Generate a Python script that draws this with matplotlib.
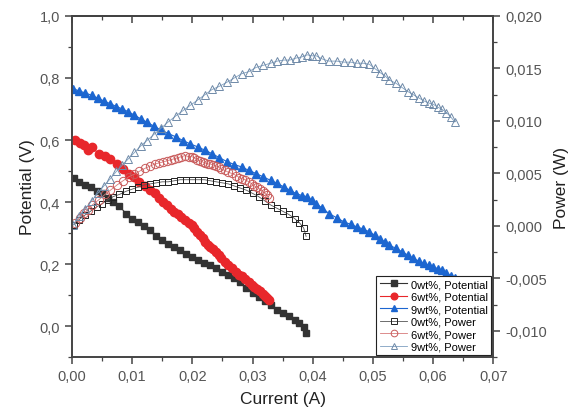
import numpy as np
import matplotlib
matplotlib.use("Agg")
import matplotlib.pyplot as plt
from matplotlib.ticker import MultipleLocator, FuncFormatter

plt.rcParams['font.family'] = ['Liberation Sans', 'DejaVu Sans']

# 0 wt% sample
current_0 = [0.0003, 0.0012, 0.0021, 0.0031, 0.0041, 0.0050, 0.0060, 0.0069, 0.0079, 0.0090,
             0.0100, 0.0110, 0.0120, 0.0130, 0.0140, 0.0150, 0.0160, 0.0170, 0.0180, 0.0190,
             0.0200, 0.0210, 0.0220, 0.0230, 0.0240, 0.0250, 0.0260, 0.0270, 0.0280, 0.0290,
             0.0300, 0.0310, 0.0320, 0.0330, 0.0340, 0.0350, 0.0360, 0.0370, 0.0378, 0.0385,
             0.0389]
potential_0 = [0.476, 0.466, 0.455, 0.447, 0.437, 0.428, 0.413, 0.401, 0.386, 0.363,
               0.346, 0.335, 0.322, 0.309, 0.290, 0.278, 0.264, 0.255, 0.245, 0.232,
               0.223, 0.213, 0.205, 0.196, 0.186, 0.176, 0.165, 0.155, 0.141, 0.122,
               0.108, 0.095, 0.082, 0.068, 0.053, 0.041, 0.031, 0.020, 0.010, -0.004,
               -0.022]
power_0 = [0.0001, 0.0006, 0.0010, 0.0014, 0.0018, 0.0021, 0.0025, 0.0028, 0.0030, 0.0033,
           0.0035, 0.0037, 0.0039, 0.0040, 0.0041, 0.0042, 0.0042, 0.0043, 0.0044, 0.0044,
           0.0044, 0.0044, 0.0044, 0.0043, 0.0042, 0.0041, 0.0040, 0.0038, 0.0036, 0.0034,
           0.0031, 0.0028, 0.0024, 0.0020, 0.0017, 0.0014, 0.0011, 0.0007, 0.0003, -0.0002,
           -0.0010]

# 6 wt% sample
current_6 = [0.0005, 0.0013, 0.0020, 0.0026, 0.0034, 0.0045, 0.0055, 0.0064, 0.0075, 0.0085,
             0.0095, 0.0103, 0.0112, 0.0122, 0.0130, 0.0138, 0.0145, 0.0152, 0.0158, 0.0164,
             0.0170, 0.0176, 0.0182, 0.0188, 0.0194, 0.0199, 0.0203, 0.0208, 0.0212, 0.0217,
             0.0221, 0.0226, 0.0230, 0.0235, 0.0240, 0.0244, 0.0248, 0.0254, 0.0260, 0.0266,
             0.0273, 0.0278, 0.0282, 0.0288, 0.0294, 0.0299, 0.0303, 0.0308, 0.0312, 0.0317,
             0.0321, 0.0324, 0.0327]
potential_6 = [0.600, 0.592, 0.585, 0.568, 0.576, 0.555, 0.548, 0.538, 0.522, 0.505,
               0.490, 0.480, 0.466, 0.452, 0.440, 0.428, 0.412, 0.400, 0.390, 0.376,
               0.368, 0.360, 0.352, 0.342, 0.334, 0.325, 0.316, 0.302, 0.293, 0.283,
               0.272, 0.262, 0.256, 0.248, 0.238, 0.228, 0.219, 0.208, 0.197, 0.188,
               0.175, 0.166, 0.160, 0.152, 0.143, 0.134, 0.127, 0.119, 0.112, 0.104,
               0.096, 0.090, 0.084]
power_6 = [0.0003, 0.0008, 0.0012, 0.0015, 0.0020, 0.0025, 0.0030, 0.0034, 0.0039, 0.0043,
           0.0047, 0.0049, 0.0052, 0.0055, 0.0057, 0.0059, 0.0060, 0.0061, 0.0062, 0.0063,
           0.0064, 0.0065, 0.0066, 0.0067, 0.0066, 0.0066, 0.0065, 0.0063, 0.0062, 0.0061,
           0.0060, 0.0059, 0.0059, 0.0058, 0.0057, 0.0056, 0.0054, 0.0053, 0.0051, 0.0050,
           0.0048, 0.0046, 0.0045, 0.0044, 0.0042, 0.0040, 0.0038, 0.0037, 0.0035, 0.0033,
           0.0031, 0.0029, 0.0027]

# 9 wt% sample
current_9 = [0.0002, 0.0012, 0.0022, 0.0033, 0.0043, 0.0053, 0.0064, 0.0074, 0.0084, 0.0094,
             0.0104, 0.0114, 0.0124, 0.0136, 0.0148, 0.0160, 0.0173, 0.0185, 0.0197, 0.0209,
             0.0221, 0.0233, 0.0245, 0.0258, 0.0270, 0.0282, 0.0294, 0.0306, 0.0318, 0.0330,
             0.0341, 0.0352, 0.0362, 0.0373, 0.0382, 0.0391, 0.0399, 0.0406, 0.0416, 0.0427,
             0.0440, 0.0452, 0.0463, 0.0473, 0.0484, 0.0494, 0.0503, 0.0512, 0.0520, 0.0527,
             0.0538, 0.0548, 0.0558, 0.0567, 0.0576, 0.0585, 0.0593, 0.0600, 0.0608, 0.0615,
             0.0622, 0.0629, 0.0636]
potential_9 = [0.766, 0.758, 0.752, 0.744, 0.735, 0.726, 0.717, 0.708, 0.700, 0.691,
               0.680, 0.669, 0.658, 0.645, 0.632, 0.621, 0.610, 0.598, 0.587, 0.578,
               0.567, 0.556, 0.543, 0.530, 0.521, 0.513, 0.502, 0.492, 0.481, 0.470,
               0.460, 0.449, 0.438, 0.427, 0.421, 0.417, 0.405, 0.395, 0.380, 0.363,
               0.349, 0.336, 0.328, 0.320, 0.313, 0.304, 0.293, 0.282, 0.271, 0.261,
               0.251, 0.240, 0.229, 0.218, 0.210, 0.202, 0.196, 0.191, 0.185, 0.180,
               0.172, 0.163, 0.155]
power_9 = [0.0001, 0.0009, 0.0016, 0.0024, 0.0031, 0.0038, 0.0045, 0.0052, 0.0058, 0.0064,
           0.0070, 0.0076, 0.0081, 0.0087, 0.0093, 0.0099, 0.0105, 0.0110, 0.0115, 0.0120,
           0.0125, 0.0130, 0.0133, 0.0137, 0.0141, 0.0145, 0.0147, 0.0151, 0.0153, 0.0155,
           0.0157, 0.0158, 0.0158, 0.0160, 0.0161, 0.0163, 0.0162, 0.0162, 0.0159, 0.0157,
           0.0157, 0.0156, 0.0156, 0.0155, 0.0155, 0.0154, 0.0150, 0.0146, 0.0143, 0.0139,
           0.0136, 0.0132, 0.0128, 0.0125, 0.0122, 0.0119, 0.0117, 0.0116, 0.0113, 0.0111,
           0.0108, 0.0104, 0.0099]

black = '#333333'
red = '#e8272b'
blue = '#1c66d0'


def comma(fmt):
    return FuncFormatter(lambda v, pos: (fmt % v).replace('.', ','))


fig = plt.figure(figsize=(5.75, 4.14), dpi=100)
ax = fig.add_axes([0.125, 0.135, 0.733, 0.824])
ax2 = ax.twinx()

# potential (filled symbols)
ax.plot(current_0, potential_0, '-s', color=black, ms=5, lw=0.8, label='0wt%, Potential', zorder=3)
ax.plot(current_6, potential_6, '-o', color=red, ms=6, lw=0.8, label='6wt%, Potential', zorder=3)
ax.plot(current_9, potential_9, '-^', color=blue, ms=6, lw=0.8, label='9wt%, Potential', zorder=3)

# power (open symbols)
ax2.plot(current_0, power_0, '-s', color='#555555', mfc='none', mec='#222222', ms=5, mew=0.7,
         lw=0.6, label='0wt%, Power')
ax2.plot(current_6, power_6, '-o', color='#d77a7a', mfc='none', mec='#c85a5a', ms=6, mew=0.7,
         lw=0.6, label='6wt%, Power')
ax2.plot(current_9, power_9, '-^', color='#7f9fc0', mfc='none', mec='#6f8aa8', ms=6, mew=0.7,
         lw=0.6, label='9wt%, Power')

ax.set_xlim(0, 0.07)
ax.set_ylim(-0.1, 1.0)
ax2.set_ylim(-0.0125, 0.020)

ax.xaxis.set_major_locator(MultipleLocator(0.01))
ax.xaxis.set_minor_locator(MultipleLocator(0.005))
ax.yaxis.set_major_locator(MultipleLocator(0.2))
ax.yaxis.set_minor_locator(MultipleLocator(0.1))
ax2.yaxis.set_major_locator(MultipleLocator(0.005))
ax2.yaxis.set_minor_locator(MultipleLocator(0.0025))

ax.xaxis.set_major_formatter(comma('%.2f'))
ax.yaxis.set_major_formatter(comma('%.1f'))
ax2.yaxis.set_major_formatter(comma('%.3f'))

for a in (ax, ax2):
    for s in a.spines.values():
        s.set_color('#444444')
        s.set_linewidth(1.2)
    a.tick_params(which='both', direction='out', colors='#444444', labelcolor='#555555',
                  labelsize=10.5)
    a.tick_params(which='major', length=5, width=1.1)
    a.tick_params(which='minor', length=3, width=0.9)

top = ax.secondary_xaxis('top')
top.xaxis.set_major_locator(MultipleLocator(0.01))
top.xaxis.set_minor_locator(MultipleLocator(0.005))
top.tick_params(which='both', direction='in', labeltop=False, colors='#444444')
top.tick_params(which='major', length=5, width=1.1)
top.tick_params(which='minor', length=3, width=0.9)
top.spines['top'].set_linewidth(1.2)

ax.set_xlabel('Current (A)', fontsize=12.5, color='#222222', labelpad=6)
ax.set_ylabel('Potential (V)', fontsize=12.5, color='#222222', labelpad=3)
ax2.set_ylabel('Power (W)', fontsize=12.5, color='#222222', labelpad=5)

h1, l1 = ax.get_legend_handles_labels()
h2, l2 = ax2.get_legend_handles_labels()
leg = ax2.legend(h1 + h2, l1 + l2, loc='lower right', fontsize=8, frameon=True,
                 fancybox=False, edgecolor='#222222', framealpha=1, borderaxespad=0.2,
                 handlelength=2.5, handletextpad=0.3, labelspacing=0.22, borderpad=0.3,
                 markerscale=0.8)
leg.get_frame().set_linewidth(0.8)
leg.set_zorder(10)

fig.savefig('out.png', dpi=100)
